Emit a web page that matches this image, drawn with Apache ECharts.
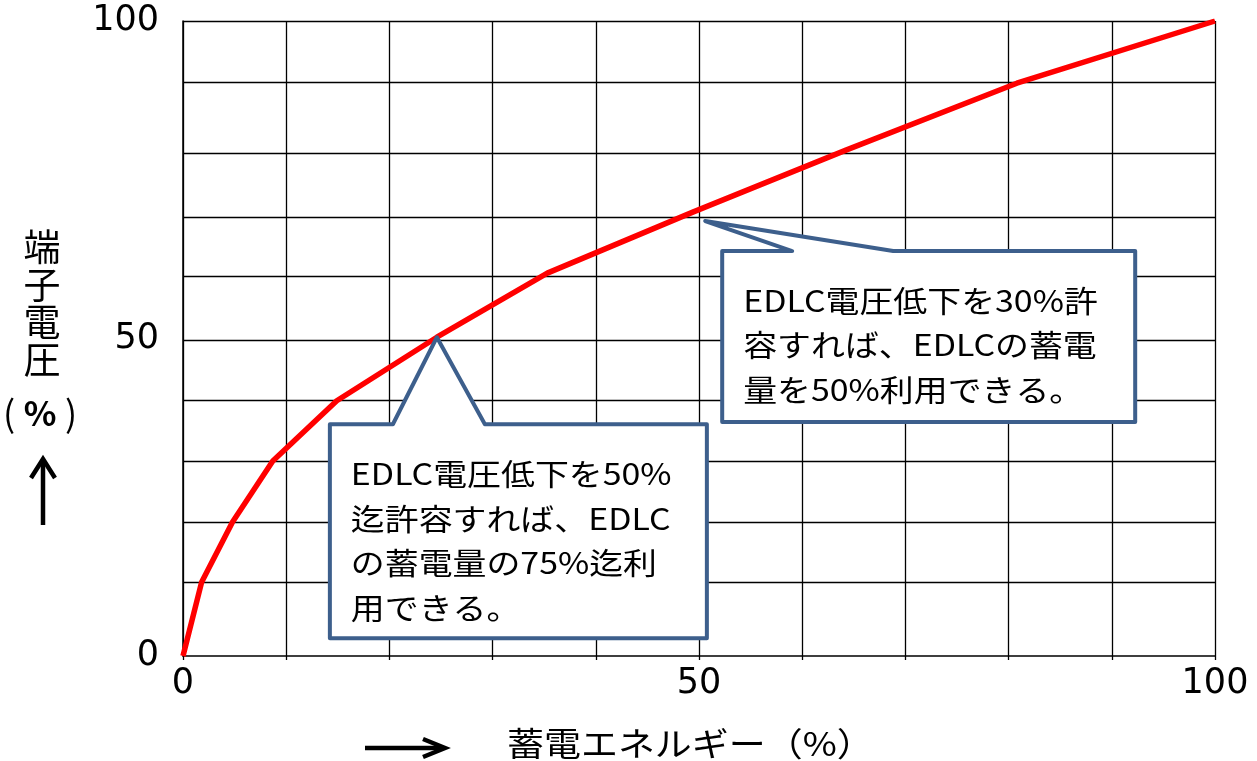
<!DOCTYPE html>
<html>
<head>
<meta charset="utf-8">
<script src="https://cdn.jsdelivr.net/npm/echarts@6.0.0/dist/echarts.min.js"></script>
<style>
  html, body { margin: 0; padding: 0; background: #fff; }
  #chart { width: 1257px; height: 761px; }
</style>
</head>
<body>
<div id="chart"></div>
<script>
// EDLC: stored energy (%) against terminal voltage (%)
const energyPct  = [0, 1.8, 4.8, 8.7, 14.9, 24.6, 35.3, 49.4, 64.3, 80.8, 100];
const voltagePct = [0, 11.6, 21.1, 30.7, 40.2, 50.2, 60.3, 69.9, 79.7, 90.2, 100];

// levels of the hand-ruled horizontal grid lines
const voltageRules = [11.6, 21.1, 30.7, 40.2, 49.8, 59.8, 69.1, 79.2, 90.4, 100];

// labelled ticks on both axes
const tickLabels = [0, 50, 100];

const xTitle = '蓄電エネルギー（%）';
const yTitleChars = ['端', '子', '電', '圧'];
const yTitleUnit = ['(', '%', ')'];

// callout notes: the point each one points to (energy, voltage) and its text lines
const noteAnchors = [[50.6, 68.5], [24.6, 50.2]];
const noteLines = [
  ['EDLC電圧低下を30%許', '容すれば、EDLCの蓄電', '量を50%利用できる。'],
  ['EDLC電圧低下を50%', '迄許容すれば、EDLC', 'の蓄電量の75%迄利', '用できる。']
];
// callout box geometry in pixels relative to the pointer tip:
// [left, right, top, bottom, pointer base start, pointer base end]
const noteBoxes = [
  [17, 430, 30, 201, 87, 188],
  [-107, 270, 87, 301, -44, 48]
];

const CJK = 'Noto Sans CJK JP';
const NUM = 'DejaVu Sans';
const labelFmt = v => (tickLabels.includes(v) ? String(v) : '');

const chart = echarts.init(document.getElementById('chart'), null, { renderer: 'canvas' });

chart.setOption({
  animation: false,
  backgroundColor: '#fff',
  grid: { left: 183, right: 42, top: 21, bottom: 105, containLabel: false },
  xAxis: {
    type: 'value', min: 0, max: 100, interval: 10,
    axisLine: { show: true, lineStyle: { color: '#000', width: 1.5 } },
    axisTick: { show: true, length: 4, lineStyle: { color: '#000', width: 1.3 } },
    axisLabel: { formatter: labelFmt, color: '#000', fontFamily: NUM, fontSize: 35, margin: 10 },
    splitLine: { show: true, lineStyle: { color: '#000', width: 1.3 } }
  },
  yAxis: {
    type: 'value', min: 0, max: 100, interval: 10,
    axisLine: { show: true, lineStyle: { color: '#000', width: 1.5 } },
    axisTick: { show: false },
    axisLabel: { formatter: labelFmt, color: '#000', fontFamily: NUM, fontSize: 35, margin: 24 },
    splitLine: { show: false }
  },
  series: [
    {
      // horizontal grid rules
      type: 'line',
      data: [[0, 0]],
      symbol: 'none',
      lineStyle: { opacity: 0 },
      silent: true,
      z: 1,
      markLine: {
        silent: true,
        symbol: ['none', 'none'],
        label: { show: false },
        lineStyle: { color: '#000', width: 1.3, type: 'solid' },
        data: voltageRules.map(v => ({ yAxis: v }))
      }
    },
    {
      type: 'line',
      data: energyPct.map((e, i) => [e, voltagePct[i]]),
      symbol: 'none',
      lineStyle: { color: '#ff0000', width: 5.5 },
      z: 5
    }
  ]
});

// axis titles, arrows and callouts
const graphics = [];

graphics.push({
  type: 'text', x: 507, y: 727, z: 10, scaleX: 1.12,
  style: { text: xTitle, fontFamily: CJK, fontSize: 33, fill: '#000', verticalAlign: 'top' }
});
graphics.push({
  type: 'line', z: 10,
  shape: { x1: 365, y1: 748, x2: 442, y2: 748 },
  style: { stroke: '#000', lineWidth: 4.5 }
});
graphics.push({
  type: 'polyline', z: 10,
  shape: { points: [[423, 739], [445, 748], [423, 757]] },
  style: { stroke: '#000', lineWidth: 4.5, fill: null }
});

yTitleChars.forEach((c, i) => {
  graphics.push({
    type: 'text', z: 10,
    x: 42, y: 247 + i * 37.7,
    style: { text: c, fontFamily: CJK, fontSize: 37, fill: '#000', align: 'center', verticalAlign: 'middle' }
  });
});
[[9, 36, 'normal'], [40, 34, 'bold'], [71, 36, 'normal']].forEach(([cx, fs, fw], i) => {
  graphics.push({
    type: 'text', z: 10, x: cx, y: 413,
    style: { text: yTitleUnit[i], fontFamily: CJK, fontSize: fs, fontWeight: fw, fill: '#000', align: 'center', verticalAlign: 'middle' }
  });
});
graphics.push({
  type: 'line', z: 10,
  shape: { x1: 43, y1: 525, x2: 43, y2: 462 },
  style: { stroke: '#000', lineWidth: 4.5 }
});
graphics.push({
  type: 'polyline', z: 10,
  shape: { points: [[31, 478], [43, 459], [55, 478]] },
  style: { stroke: '#000', lineWidth: 4.5, fill: null }
});

noteAnchors.forEach((a, k) => {
  const tip = chart.convertToPixel({ gridIndex: 0 }, a);
  const [l, r, t, b, p1, p2] = noteBoxes[k];
  const L = tip[0] + l, R = tip[0] + r, T = tip[1] + t, B = tip[1] + b;
  graphics.push({
    type: 'polygon', z: 20,
    shape: { points: [[L, T], [tip[0] + p1, T], tip, [tip[0] + p2, T], [R, T], [R, B], [L, B]] },
    style: { stroke: '#3d5f8c', lineWidth: 4, fill: '#fff', lineJoin: 'round' }
  });
  graphics.push({
    type: 'text', z: 21,
    x: L + 21, y: T + 27, scaleX: 1.13,
    style: {
      text: noteLines[k].join('\n'),
      fontFamily: CJK, fontSize: 30, lineHeight: 44.6, fill: '#000',
      align: 'left', verticalAlign: 'top'
    }
  });
});

chart.setOption({ graphic: graphics });
</script>
</body>
</html>
